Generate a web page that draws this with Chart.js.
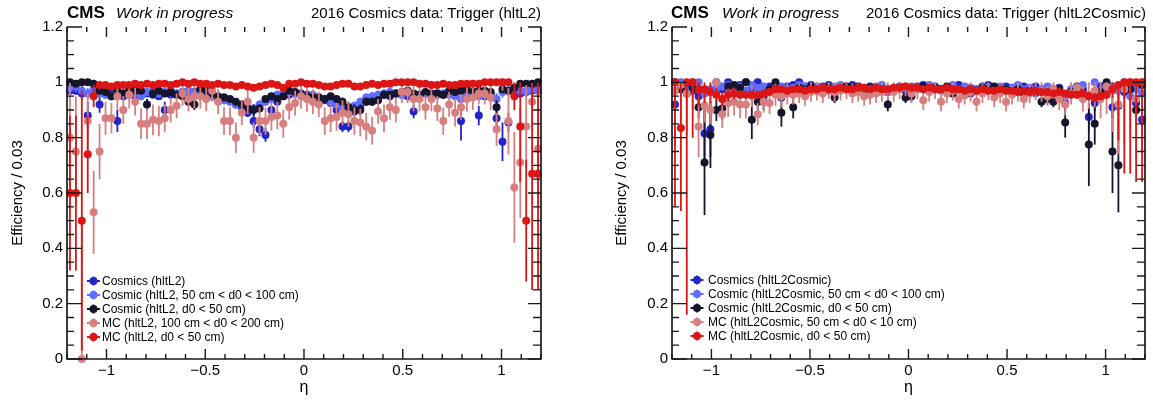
<!DOCTYPE html>
<html><head><meta charset="utf-8">
<script src="https://cdn.jsdelivr.net/npm/chart.js@4.4.1/dist/chart.umd.min.js"></script>
<style>
html,body{margin:0;padding:0;background:#fff;}
body{width:1153px;height:401px;overflow:hidden;position:relative;font-family:"Liberation Sans",Arial,Helvetica,sans-serif;}
.box{position:absolute;top:0;height:401px;}
.hdr{position:absolute;white-space:nowrap;line-height:1;color:#000;}
</style></head><body>
<div class="box" style="left:0;width:575px"><canvas id="c1"></canvas></div>
<div class="box" style="left:575px;width:578px"><canvas id="c2"></canvas></div>
<div class="hdr" style="left:67px;top:3.6px;font-size:17px;font-weight:bold">CMS</div>
<div class="hdr" style="left:116px;top:5.3px;font-size:15.5px;font-style:italic">Work in progress</div>
<div class="hdr" style="right:612px;top:5.3px;font-size:15px;text-align:right">2016 Cosmics data: Trigger (hltL2)</div>
<div class="hdr" style="left:671px;top:3.6px;font-size:17px;font-weight:bold">CMS</div>
<div class="hdr" style="left:722px;top:5.3px;font-size:15.5px;font-style:italic">Work in progress</div>
<div class="hdr" style="right:7px;top:5.3px;font-size:15px;text-align:right">2016 Cosmics data: Trigger (hltL2Cosmic)</div>
<script>
// ---------------- DATA ----------------
const ETA = [-1.185,-1.155,-1.125,-1.095,-1.065,-1.035,-1.005,-0.975,-0.945,-0.915,
 -0.885,-0.855,-0.825,-0.795,-0.765,-0.735,-0.705,-0.675,-0.645,-0.615,
 -0.585,-0.555,-0.525,-0.495,-0.465,-0.435,-0.405,-0.375,-0.345,-0.315,
 -0.285,-0.255,-0.225,-0.195,-0.165,-0.135,-0.105,-0.075,-0.045,-0.015,
 0.015,0.045,0.075,0.105,0.135,0.165,0.195,0.225,0.255,0.285,
 0.315,0.345,0.375,0.405,0.435,0.465,0.495,0.525,0.555,0.585,
 0.615,0.645,0.675,0.705,0.735,0.765,0.795,0.825,0.855,0.885,
 0.915,0.945,0.975,1.005,1.035,1.065,1.095,1.125,1.155,1.185];

const X_TICKS = [-1, -0.5, 0, 0.5, 1];
const Y_TICKS = [0, 0.2, 0.4, 0.6, 0.8, 1.0, 1.2];

const LEFT_LABELS = ['Cosmics (hltL2)', 'Cosmic (hltL2, 50 cm < d0 < 100 cm)', 'Cosmic (hltL2, d0 < 50 cm)', 'MC (hltL2, 100 cm < d0 < 200 cm)', 'MC (hltL2, d0 < 50 cm)'];
const RIGHT_LABELS = ['Cosmics (hltL2Cosmic)', 'Cosmic (hltL2Cosmic, 50 cm < d0 < 100 cm)', 'Cosmic (hltL2Cosmic, d0 < 50 cm)', 'MC (hltL2Cosmic, 50 cm < d0 < 10 cm)', 'MC (hltL2Cosmic, d0 < 50 cm)'];

// Left panel: hltL2
const L_COS = [0.97,0.97,0.96,0.88,0.97,0.92,0.96,0.96,0.86,0.95,
 0.96,0.95,0.955,0.96,0.955,0.95,0.90,0.955,0.96,0.965,
 0.96,0.965,0.97,0.965,0.96,0.95,0.945,0.935,0.92,0.91,
 0.89,0.86,0.83,0.81,0.90,0.93,0.95,0.955,0.96,0.96,
 0.955,0.95,0.945,0.935,0.925,0.90,0.84,0.84,0.895,0.91,
 0.94,0.945,0.95,0.955,0.95,0.96,0.955,0.95,0.895,0.955,
 0.96,0.955,0.96,0.955,0.96,0.955,0.86,0.95,0.955,0.88,
 0.95,0.955,0.87,0.785,0.855,0.97,0.96,0.965,0.97,0.975];
const L_COS_ERR = [0.015,0.015,0.02,0.05,0.015,0.03,0.015,0.015,0.04,0.015,
 0.012,0.012,0.012,0.012,0.012,0.012,0.03,0.012,0.012,0.012,
 0.012,0.012,0.012,0.012,0.012,0.012,0.012,0.012,0.012,0.012,
 0.015,0.025,0.025,0.025,0.015,0.012,0.012,0.012,0.012,0.012,
 0.012,0.012,0.012,0.012,0.012,0.015,0.02,0.02,0.015,0.012,
 0.012,0.012,0.012,0.012,0.012,0.012,0.012,0.012,0.025,0.012,
 0.012,0.012,0.012,0.012,0.012,0.012,0.07,0.012,0.012,0.035,
 0.012,0.012,0.035,0.07,0.035,0.015,0.015,0.015,0.015,0.015];

const L_C100 = [0.98,0.985,0.97,0.96,0.975,0.96,0.955,0.95,0.965,0.96,
 0.955,0.96,0.95,0.965,0.97,0.96,0.965,0.97,0.96,0.965,
 0.97,0.96,0.965,0.96,0.95,0.94,0.935,0.93,0.92,0.915,
 0.91,0.905,0.92,0.93,0.94,0.955,0.96,0.965,0.96,0.955,
 0.95,0.955,0.945,0.94,0.93,0.92,0.91,0.905,0.915,0.93,
 0.945,0.95,0.955,0.96,0.965,0.96,0.955,0.965,0.95,0.955,
 0.96,0.95,0.955,0.96,0.955,0.95,0.94,0.955,0.96,0.95,
 0.955,0.96,0.94,0.965,0.97,0.975,0.97,0.965,0.975,0.97];
const L_C100_ERR = [0.02,0.02,0.02,0.02,0.02,0.015,0.015,0.015,0.015,0.015,
 0.015,0.015,0.015,0.015,0.015,0.015,0.015,0.015,0.015,0.015,
 0.015,0.015,0.015,0.015,0.015,0.015,0.015,0.015,0.015,0.015,
 0.015,0.015,0.015,0.015,0.015,0.015,0.015,0.015,0.015,0.015,
 0.015,0.015,0.015,0.015,0.015,0.015,0.015,0.015,0.015,0.015,
 0.015,0.015,0.015,0.015,0.015,0.015,0.015,0.015,0.015,0.015,
 0.015,0.015,0.015,0.015,0.015,0.015,0.015,0.015,0.015,0.015,
 0.015,0.015,0.02,0.02,0.02,0.02,0.02,0.02,0.02,0.02];

const L_C50 = [1.0,0.995,1.0,1.0,0.995,0.97,0.965,0.95,0.97,0.96,
 0.975,0.97,0.97,0.92,0.96,0.97,0.96,0.965,0.955,0.95,
 0.93,0.92,0.975,0.97,0.96,0.945,0.945,0.94,0.93,0.92,
 0.905,0.90,0.905,0.94,0.95,0.94,0.95,0.97,0.965,0.955,
 0.95,0.945,0.945,0.94,0.95,0.94,0.93,0.91,0.90,0.90,
 0.93,0.93,0.935,0.955,0.955,0.96,0.965,0.97,0.96,0.955,
 0.965,0.96,0.96,0.955,0.97,0.965,0.97,0.975,0.965,0.97,
 0.97,0.965,0.91,0.975,0.97,0.98,0.995,0.995,0.995,1.0];
const L_C50_ERR = [0.008,0.008,0.008,0.008,0.008,0.012,0.012,0.012,0.012,0.012,
 0.012,0.012,0.012,0.02,0.012,0.012,0.012,0.012,0.012,0.012,
 0.015,0.02,0.012,0.012,0.012,0.012,0.012,0.012,0.012,0.015,
 0.015,0.02,0.015,0.012,0.012,0.012,0.012,0.012,0.012,0.012,
 0.012,0.012,0.012,0.012,0.012,0.012,0.015,0.02,0.02,0.02,
 0.015,0.015,0.015,0.012,0.012,0.012,0.012,0.012,0.012,0.012,
 0.012,0.012,0.012,0.012,0.012,0.012,0.012,0.012,0.012,0.012,
 0.012,0.012,0.025,0.012,0.012,0.01,0.008,0.008,0.008,0.008];

const L_MC100 = [0.80,0.75,0.0,0.86,0.53,0.75,0.87,0.87,0.95,0.90,
 0.955,0.93,0.85,0.85,0.865,0.86,0.87,0.90,0.915,0.96,
 0.94,0.95,0.95,0.94,0.97,0.93,0.86,0.86,0.80,0.89,
 0.93,0.80,0.86,0.86,0.875,0.88,0.85,0.91,0.925,0.95,
 0.94,0.93,0.92,0.86,0.87,0.875,0.89,0.885,0.86,0.855,
 0.84,0.825,0.895,0.87,0.91,0.90,0.965,0.965,0.94,0.94,
 0.91,0.94,0.905,0.86,0.92,0.89,0.91,0.94,0.945,0.96,
 0.96,0.945,0.83,1.0,0.86,0.62,0.71,0.84,0.93,0.76];
const L_MC100_ERR = [0.25,0.2,0.5,0.1,0.15,0.1,0.06,0.055,0.05,0.05,
 0.05,0.05,0.055,0.055,0.055,0.055,0.05,0.045,0.045,0.045,
 0.045,0.045,0.045,0.045,0.04,0.045,0.05,0.05,0.055,0.045,
 0.045,0.055,0.05,0.05,0.05,0.05,0.05,0.045,0.045,0.045,
 0.045,0.045,0.045,0.05,0.05,0.05,0.045,0.045,0.05,0.05,
 0.05,0.05,0.045,0.05,0.045,0.045,0.04,0.04,0.045,0.045,
 0.045,0.045,0.045,0.05,0.045,0.05,0.045,0.045,0.045,0.04,
 0.04,0.045,0.06,0.03,0.12,0.2,0.2,0.15,0.1,0.2];

const L_MC50 = [0.60,0.60,0.50,0.74,0.95,0.99,0.99,0.985,0.99,0.99,
 0.99,0.995,0.99,0.995,0.99,0.995,0.995,0.99,0.995,1.0,
 0.995,1.0,0.995,0.995,0.99,0.995,0.99,0.99,0.985,0.99,
 0.985,0.98,0.985,0.99,0.995,0.99,0.98,0.995,0.995,1.0,
 0.995,0.995,0.99,0.985,0.985,0.99,0.995,0.995,0.985,0.985,
 0.99,0.995,0.99,0.995,0.995,1.0,1.0,1.0,1.0,0.995,
 0.995,0.99,0.99,0.995,0.99,0.99,0.995,0.995,0.995,0.995,
 1.0,1.0,1.0,1.0,1.0,0.95,0.84,0.50,0.67,0.67];
const L_MC50_ERR = [0.28,0.28,0.47,0.14,0.04,0.008,0.008,0.008,0.008,0.008,
 0.006,0.006,0.006,0.006,0.006,0.006,0.006,0.006,0.006,0.006,
 0.006,0.006,0.006,0.006,0.006,0.006,0.006,0.006,0.006,0.006,
 0.006,0.006,0.006,0.006,0.006,0.006,0.006,0.006,0.006,0.006,
 0.006,0.006,0.006,0.006,0.006,0.006,0.006,0.006,0.006,0.006,
 0.006,0.006,0.006,0.006,0.006,0.006,0.006,0.006,0.006,0.006,
 0.006,0.006,0.006,0.006,0.006,0.006,0.006,0.006,0.006,0.006,
 0.008,0.008,0.008,0.008,0.01,0.05,0.2,0.22,0.42,0.42];

// Right panel: hltL2Cosmic
const R_COS = [0.92,0.98,0.985,0.97,0.95,0.815,0.83,1.0,0.975,1.0,
 0.985,0.99,1.0,0.98,1.0,0.95,0.985,0.99,0.945,0.985,
 0.99,1.0,0.985,0.99,0.98,0.985,0.99,0.975,0.98,0.985,
 0.99,0.98,0.975,0.985,0.97,0.98,0.965,0.975,0.985,0.97,
 0.975,0.985,0.99,0.98,0.985,0.975,0.98,0.985,0.99,0.97,
 0.96,0.975,0.985,0.99,0.98,0.975,0.985,0.98,0.975,0.985,
 0.97,0.985,0.975,0.96,0.975,0.98,0.925,0.97,0.985,0.975,
 0.875,0.925,0.985,0.99,0.91,0.915,0.965,0.98,0.925,0.865];
const R_COS_ERR = [0.03,0.015,0.015,0.015,0.02,0.1,0.1,0.01,0.012,0.01,
 0.01,0.01,0.01,0.01,0.01,0.015,0.01,0.01,0.015,0.01,
 0.01,0.01,0.01,0.01,0.01,0.01,0.01,0.01,0.01,0.01,
 0.01,0.01,0.01,0.01,0.01,0.01,0.012,0.01,0.01,0.01,
 0.01,0.01,0.01,0.01,0.01,0.01,0.01,0.01,0.01,0.01,
 0.012,0.01,0.01,0.01,0.01,0.01,0.01,0.01,0.01,0.01,
 0.01,0.01,0.01,0.012,0.01,0.01,0.03,0.012,0.012,0.012,
 0.05,0.03,0.015,0.015,0.04,0.04,0.02,0.02,0.04,0.05];

const R_C100 = [0.97,1.0,0.97,0.99,1.0,0.96,0.975,0.98,0.985,0.99,
 0.975,0.985,0.97,0.99,0.98,0.985,0.97,0.98,0.985,0.975,
 0.98,0.99,0.985,0.975,0.985,0.98,0.97,0.985,0.99,0.98,
 0.975,0.985,0.98,0.97,0.985,0.99,0.975,0.98,0.985,0.98,
 0.985,0.975,0.98,0.99,0.985,0.97,0.98,0.99,0.975,0.985,
 0.98,0.975,0.985,0.98,0.97,0.985,0.975,0.98,0.99,0.975,
 0.98,0.96,0.975,0.985,0.97,0.965,0.95,0.975,0.98,0.99,
 0.95,1.0,0.97,0.96,0.985,0.97,1.0,0.95,0.975,0.96];
const R_C100_ERR = [0.03,0.02,0.02,0.02,0.02,0.02,0.015,0.012,0.012,0.012,
 0.01,0.01,0.01,0.01,0.01,0.01,0.01,0.01,0.01,0.01,
 0.01,0.01,0.01,0.01,0.01,0.01,0.01,0.01,0.01,0.01,
 0.01,0.01,0.01,0.01,0.01,0.01,0.01,0.01,0.01,0.01,
 0.01,0.01,0.01,0.01,0.01,0.01,0.01,0.01,0.01,0.01,
 0.01,0.01,0.01,0.01,0.01,0.01,0.01,0.01,0.01,0.01,
 0.01,0.012,0.01,0.01,0.012,0.012,0.015,0.012,0.012,0.012,
 0.02,0.015,0.02,0.02,0.02,0.025,0.02,0.03,0.03,0.03];

const R_C50 = [1.0,0.975,0.96,0.98,0.91,0.71,0.81,0.90,0.905,0.985,
 0.99,0.98,1.0,0.865,0.93,0.93,0.975,1.0,0.89,0.97,
 0.91,0.98,0.975,0.985,0.97,0.975,0.98,0.945,0.975,0.985,
 0.98,0.985,0.975,0.98,0.97,0.975,0.92,0.975,0.98,0.945,
 0.95,0.975,0.985,0.975,0.98,0.975,0.985,0.96,0.975,0.955,
 0.975,0.97,0.98,0.975,0.985,0.97,0.975,0.965,0.975,0.96,
 0.97,0.965,0.93,0.94,0.93,0.975,0.855,0.965,0.97,0.96,
 0.775,0.85,0.965,1.0,0.75,0.70,0.97,0.975,0.90,0.99];
const R_C50_ERR = [0.02,0.02,0.02,0.02,0.04,0.19,0.12,0.04,0.04,0.015,
 0.012,0.012,0.01,0.07,0.03,0.03,0.012,0.01,0.05,0.012,
 0.04,0.012,0.012,0.01,0.012,0.012,0.01,0.02,0.012,0.01,
 0.01,0.01,0.012,0.01,0.012,0.012,0.025,0.012,0.01,0.02,
 0.02,0.012,0.01,0.012,0.01,0.012,0.01,0.015,0.012,0.015,
 0.012,0.012,0.01,0.012,0.01,0.012,0.012,0.012,0.012,0.015,
 0.012,0.015,0.02,0.02,0.02,0.015,0.055,0.015,0.015,0.02,
 0.15,0.075,0.02,0.02,0.15,0.17,0.03,0.03,0.05,0.03];

const R_MC100 = [0.97,0.99,0.96,1.0,0.84,0.915,0.90,1.0,0.885,0.925,
 0.93,0.92,0.92,0.95,0.885,0.93,0.925,0.955,0.95,0.96,
 0.955,0.96,0.95,0.965,0.97,0.96,0.975,0.965,0.97,0.975,
 0.96,0.965,0.95,0.955,0.96,0.965,0.97,0.965,0.975,0.985,
 0.96,0.975,0.935,0.965,0.975,0.93,0.96,0.97,0.94,0.955,
 0.965,0.93,0.96,0.97,0.945,0.96,0.93,0.955,0.965,0.94,
 0.96,0.97,0.965,0.95,0.975,0.94,0.92,0.96,0.98,0.94,
 0.955,0.97,0.94,0.985,0.97,0.92,0.975,1.0,0.94,1.0];
const R_MC100_ERR = [0.2,0.15,0.15,0.1,0.11,0.06,0.05,0.05,0.05,0.05,
 0.05,0.05,0.05,0.04,0.04,0.04,0.04,0.04,0.04,0.04,
 0.035,0.035,0.035,0.035,0.035,0.035,0.035,0.035,0.035,0.035,
 0.035,0.035,0.035,0.035,0.035,0.035,0.035,0.035,0.035,0.035,
 0.035,0.035,0.035,0.035,0.035,0.035,0.035,0.035,0.035,0.035,
 0.035,0.035,0.035,0.035,0.035,0.035,0.035,0.035,0.035,0.035,
 0.035,0.035,0.035,0.035,0.035,0.04,0.04,0.04,0.04,0.045,
 0.05,0.06,0.07,0.1,0.15,0.18,0.2,0.2,0.22,0.25];

const R_MC50 = [1.0,0.835,1.0,1.0,0.975,0.975,0.965,0.955,0.94,0.955,
 0.96,0.955,0.955,0.955,0.955,0.96,0.965,0.975,0.975,0.97,
 0.975,0.975,0.97,0.975,0.975,0.98,0.975,0.975,0.98,0.975,
 0.975,0.98,0.98,0.975,0.98,0.975,0.975,0.98,0.98,0.985,
 0.98,0.98,0.975,0.98,0.975,0.975,0.98,0.975,0.975,0.97,
 0.975,0.97,0.975,0.97,0.97,0.975,0.97,0.97,0.965,0.97,
 0.965,0.97,0.965,0.965,0.96,0.965,0.96,0.955,0.955,0.96,
 0.95,0.945,0.95,0.955,0.975,0.99,1.0,1.0,1.0,1.0];
const R_MC50_ERR = [0.45,0.3,0.84,0.2,0.06,0.05,0.04,0.025,0.025,0.025,
 0.02,0.015,0.012,0.01,0.01,0.01,0.008,0.008,0.008,0.008,
 0.006,0.006,0.006,0.006,0.006,0.006,0.006,0.006,0.006,0.006,
 0.006,0.006,0.006,0.006,0.006,0.006,0.006,0.006,0.006,0.006,
 0.006,0.006,0.006,0.006,0.006,0.006,0.006,0.006,0.006,0.006,
 0.006,0.006,0.006,0.006,0.006,0.006,0.006,0.006,0.006,0.006,
 0.006,0.006,0.006,0.006,0.008,0.008,0.01,0.01,0.012,0.012,
 0.015,0.015,0.015,0.015,0.03,0.2,0.33,0.33,0.36,0.36];

// ---------------- STYLE ----------------
const FONT = '"Liberation Sans", Arial, Helvetica, sans-serif';
const COLORS = ['#2323c8', '#5f6dff', '#15152e', '#d77f7f', '#dc1515'];
const DRAW_ORDER = [5, 4, 3, 2, 1]; // red on top
const MARK_R = 4;

function fmtX(v){ return v < 0 ? '\u2212' + (-v) : String(v); }
function fmtY(v){ return String(+v.toFixed(1)); }

const rootAxes = {
  id: 'rootAxes',
  beforeDatasetDraw(chart, args) {
    const ds = chart.data.datasets[args.index];
    const ctx = chart.ctx, ys = chart.scales.y, xs = chart.scales.x, a = chart.chartArea;
    ctx.save();
    ctx.beginPath(); ctx.rect(a.left, a.top - 2, a.right - a.left, a.bottom - a.top + 4); ctx.clip();
    ctx.strokeStyle = ds.backgroundColor; ctx.lineWidth = 1.8;
    ds.data.forEach(p => {
      const lo = Math.max(0, p.y - p.e), hi = Math.min(1, p.y + p.e);
      if (hi - lo <= 0) return;
      const px = xs.getPixelForValue(p.x);
      ctx.beginPath(); ctx.moveTo(px, ys.getPixelForValue(lo)); ctx.lineTo(px, ys.getPixelForValue(hi)); ctx.stroke();
    });
    ctx.restore();
  },
  afterDraw(chart, args, opts) {
    const ctx = chart.ctx, xs = chart.scales.x, ys = chart.scales.y, a = chart.chartArea;
    ctx.save();
    ctx.strokeStyle = '#1a1a1a'; ctx.lineWidth = 1.7; ctx.lineCap = 'butt';
    ctx.beginPath();
    ctx.moveTo(a.left, a.top); ctx.lineTo(a.left, a.bottom); ctx.lineTo(a.right, a.bottom); ctx.lineTo(a.right, a.top);
    ctx.stroke();
    ctx.lineWidth = 1.4;
    ctx.beginPath();
    for (let k = -12; k <= 12; k++) {
      const px = xs.getPixelForValue(k / 10);
      const len = (k % 5 === 0) ? 10 : 5;
      ctx.moveTo(px, a.bottom); ctx.lineTo(px, a.bottom - len);
      ctx.moveTo(px, a.top); ctx.lineTo(px, a.top + len);
    }
    for (let k = 0; k <= 24; k++) {
      const py = ys.getPixelForValue(k * 0.05);
      const major = (k % 4 === 0);
      ctx.moveTo(a.left, py); ctx.lineTo(a.left + (major ? 15 : 7), py);
      ctx.moveTo(a.right, py); ctx.lineTo(a.right - (major ? 13 : 8), py);
    }
    ctx.stroke();
    // legend
    const L = opts.legend;
    chart.data.datasets.forEach((ds, k) => {
      const y = L.y0 + k * L.dy;
      ctx.strokeStyle = ds.backgroundColor; ctx.fillStyle = ds.backgroundColor; ctx.lineWidth = 1.8;
      ctx.beginPath();
      ctx.moveTo(L.mx - 6.5, y); ctx.lineTo(L.mx + 6.5, y);
      ctx.moveTo(L.mx, y - 4.5); ctx.lineTo(L.mx, y + 4.5);
      ctx.stroke();
      ctx.beginPath(); ctx.arc(L.mx, y, MARK_R, 0, Math.PI * 2); ctx.fill();
      ctx.fillStyle = '#000'; ctx.font = '12px ' + FONT; ctx.textBaseline = 'middle'; ctx.textAlign = 'left';
      ctx.fillText(ds.label, L.tx, y + 0.5);
    });
    ctx.restore();
  }
};

function makeChart(id, labels, vals, errs, yw, padRight, yTitlePad, legend) {
  const datasets = labels.map((lab, k) => ({
    label: lab,
    data: ETA.map((x, i) => ({ x: x, y: vals[k][i], e: errs[k][i] })),
    backgroundColor: COLORS[k],
    borderColor: COLORS[k],
    pointRadius: MARK_R, pointBorderWidth: 0, pointHoverRadius: MARK_R,
    showLine: false, order: DRAW_ORDER[k], clip: 5
  }));
  return new Chart(document.getElementById(id), {
    type: 'scatter',
    data: { datasets },
    plugins: [rootAxes],
    options: {
      responsive: true, maintainAspectRatio: false, animation: false, events: [],
      layout: { padding: { top: 27, right: padRight, left: 0, bottom: 0 } },
      plugins: { legend: { display: false }, tooltip: { enabled: false }, rootAxes: { legend } },
      scales: {
        x: {
          type: 'linear', min: -1.2, max: 1.2,
          afterBuildTicks: s => { s.ticks = X_TICKS.map(v => ({ value: v })); },
          afterFit: s => { s.height = 42; },
          ticks: { callback: v => fmtX(v), font: { size: 15, family: FONT }, color: '#000', padding: 3, maxRotation: 0, autoSkip: false },
          grid: { display: false, drawTicks: false }, border: { display: false },
          title: { display: true, text: 'η', color: '#000', font: { size: 16, family: FONT }, padding: { top: 0, bottom: 4 } }
        },
        y: {
          type: 'linear', min: 0, max: 1.2,
          afterBuildTicks: s => { s.ticks = Y_TICKS.map(v => ({ value: v })); },
          afterFit: s => { s.width = yw; },
          ticks: { callback: v => fmtY(v), font: { size: 15, family: FONT }, color: '#000', padding: 4, autoSkip: false },
          grid: { display: false, drawTicks: false }, border: { display: false },
          title: { display: true, text: 'Efficiency / 0.03', color: '#000', font: { size: 15, family: FONT }, padding: { top: yTitlePad, bottom: 0 } }
        }
      }
    }
  });
}

makeChart('c1', LEFT_LABELS, [L_COS, L_C100, L_C50, L_MC100, L_MC50], [L_COS_ERR, L_C100_ERR, L_C50_ERR, L_MC100_ERR, L_MC50_ERR], 67, 34, 8.5, { mx: 93.5, tx: 102, y0: 281, dy: 14 });
makeChart('c2', RIGHT_LABELS, [R_COS, R_C100, R_C50, R_MC100, R_MC50], [R_COS_ERR, R_C100_ERR, R_C50_ERR, R_MC100_ERR, R_MC50_ERR], 97, 8, 38, { mx: 122, tx: 133, y0: 280, dy: 14 });
</script>
</body></html>
